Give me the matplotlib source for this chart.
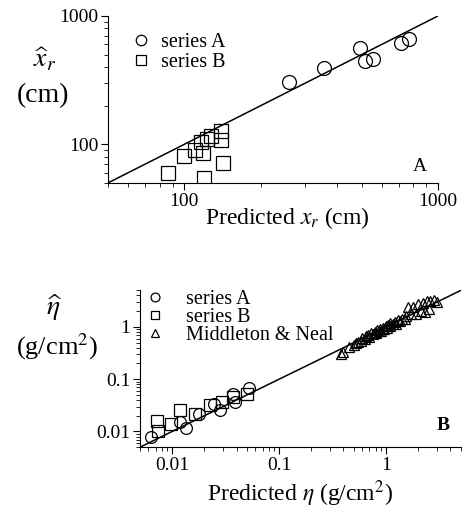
### Script description ###
# Two log-log panels: measured vs predicted x_r (A) and eta (B), with 1:1 line
### Packages ###
import matplotlib
matplotlib.use('Agg')
import matplotlib.pyplot as plt
import matplotlib.ticker as ticker

plt.rcParams['font.family'] = 'Liberation Serif'
plt.rcParams['mathtext.fontset'] = 'stix'

##### data panel A (cm) #####
xr_pred_A = [259, 355, 491, 514, 554, 716, 765]
xr_meas_A = [306, 394, 562, 443, 464, 614, 659]

xr_pred_B = [86, 100, 110, 119, 116, 123, 128, 139, 140, 142, 120]
xr_meas_B = [60, 81, 90, 85, 104, 111, 117, 127, 109, 71, 55]

##### data panel B (g/cm2) #####
eta_pred_A = [0.0063, 0.0119, 0.0136, 0.0177, 0.0244, 0.028, 0.0373, 0.0387, 0.052]
eta_meas_A = [0.0078, 0.0151, 0.0118, 0.0218, 0.033, 0.0253, 0.051, 0.0365, 0.0677]

eta_pred_B = [0.0072, 0.0073, 0.0097, 0.0119, 0.0164, 0.0227, 0.029, 0.0373, 0.0497]
eta_meas_B = [0.0158, 0.0104, 0.014, 0.0253, 0.0212, 0.0315, 0.0365, 0.0455, 0.051]

eta_pred_MN = [0.38, 0.40, 0.45, 0.50, 0.52, 0.55, 0.58, 0.60, 0.63, 0.65, 0.68, 0.70,
               0.72, 0.75, 0.78, 0.80, 0.82, 0.85, 0.88, 0.90, 0.93, 0.95, 1.00, 1.02,
               1.05, 1.08, 1.10, 1.15, 1.20, 1.25, 1.30, 1.35, 1.40, 1.50, 1.55, 1.62,
               1.70, 1.80, 1.90, 2.00, 2.10, 2.20, 2.30, 2.40, 2.50, 2.60, 2.80, 3.00]
eta_meas_MN = [0.30, 0.33, 0.42, 0.45, 0.50, 0.52, 0.55, 0.62, 0.58, 0.66, 0.70, 0.63,
               0.75, 0.72, 0.80, 0.76, 0.88, 0.82, 0.90, 0.85, 0.97, 0.92, 1.02, 0.95,
               1.10, 1.05, 1.20, 1.12, 1.25, 1.15, 1.35, 1.28, 1.45, 1.40, 1.60, 2.43,
               1.75, 2.40, 1.80, 2.70, 2.00, 2.90, 1.94, 3.10, 2.20, 3.20, 3.30, 3.00]

# 1:1 lines
line_A = [50, 1000]
line_B = [0.005, 5]

##### Plot the stuff #####
fig = plt.figure(figsize=(4.69, 5.14), dpi=100)

### panel A
ax1 = fig.add_axes([0.230, 0.644, 0.704, 0.325])
ax1.plot(line_A, line_A, color='black', lw=1.1)
ax1.plot(xr_pred_A, xr_meas_A, 'o', mfc='none', mec='black', ms=10, mew=0.9, label='series A')
ax1.plot(xr_pred_B, xr_meas_B, 's', mfc='none', mec='black', ms=10, mew=0.9, label='series B')
ax1.set_xscale('log')
ax1.set_yscale('log')
ax1.set_xlim(line_A)
ax1.set_ylim(line_A)
ax1.xaxis.set_major_locator(ticker.FixedLocator([100, 1000]))
ax1.yaxis.set_major_locator(ticker.FixedLocator([100, 1000]))
ax1.xaxis.set_major_formatter(ticker.FixedFormatter(['100', '1000']))
ax1.yaxis.set_major_formatter(ticker.FixedFormatter(['100', '1000']))
ax1.set_xlabel('Predicted $x_r$ (cm)', fontsize=17)
ax1.xaxis.set_label_coords(0.545, -0.13)
ax1.text(0.945, 0.10, 'A', transform=ax1.transAxes, fontsize=14, ha='center', va='center')
ax1.legend(loc='upper left', bbox_to_anchor=(0.04, 0.96), frameon=False, fontsize=14.5,
           markerscale=0.75, handlelength=1.0, handletextpad=0.5, labelspacing=0.05, borderpad=0)

### panel B
ax2 = fig.add_axes([0.2985, 0.130, 0.684, 0.305])
ax2.plot(line_B, line_B, color='black', lw=1.1)
ax2.plot(eta_pred_A, eta_meas_A, 'o', mfc='none', mec='black', ms=8.5, mew=0.9, label='series A')
ax2.plot(eta_pred_B, eta_meas_B, 's', mfc='none', mec='black', ms=8.5, mew=0.9, label='series B')
ax2.plot(eta_pred_MN, eta_meas_MN, '^', mfc='none', mec='black', ms=7.5, mew=0.9, label='Middleton & Neal')
ax2.set_xscale('log')
ax2.set_yscale('log')
ax2.set_xlim(line_B)
ax2.set_ylim(line_B)
ticks_B = [0.01, 0.1, 1]
labels_B = ['0.01', '0.1', '1']
ax2.xaxis.set_major_locator(ticker.FixedLocator(ticks_B))
ax2.yaxis.set_major_locator(ticker.FixedLocator(ticks_B))
ax2.xaxis.set_major_formatter(ticker.FixedFormatter(labels_B))
ax2.yaxis.set_major_formatter(ticker.FixedFormatter(labels_B))
ax2.set_xlabel('Predicted $\\eta$ (g/cm$^2$)', fontsize=17)
ax2.xaxis.set_label_coords(0.5, -0.20)
ax2.text(0.945, 0.14, 'B', transform=ax2.transAxes, fontsize=14, fontweight='bold', ha='center', va='center')
ax2.legend(loc='upper left', bbox_to_anchor=(-0.015, 1.07), frameon=False, fontsize=14.5,
           markerscale=0.75, handlelength=1.0, handletextpad=1.0, labelspacing=-0.05, borderpad=0)

### general stuff for both axes
for ax in (ax1, ax2):
    ax.tick_params(axis='both', which='major', direction='out', length=5, width=0.8, labelsize=14, pad=2)
    ax.tick_params(axis='both', which='minor', direction='out', length=3, width=0.6)
    ax.xaxis.set_minor_formatter(ticker.NullFormatter())
    ax.yaxis.set_minor_formatter(ticker.NullFormatter())
    for side in ('top', 'right'):
        ax.spines[side].set_visible(False)

# y labels as free text
fig.text(45 / 469, 1 - 60 / 514, '$\\widehat{x}_r$', fontsize=20, ha='center', va='center')
fig.text(43 / 469, 1 - 96 / 514, '(cm)', fontsize=20, ha='center', va='center')
fig.text(54 / 469, 1 - 308 / 514, '$\\widehat{\\eta}$', fontsize=20, ha='center', va='center')
fig.text(57 / 469, 1 - 347 / 514, '(g/cm$^2$)', fontsize=19, ha='center', va='center')

plt.savefig('out.png', dpi=100)
